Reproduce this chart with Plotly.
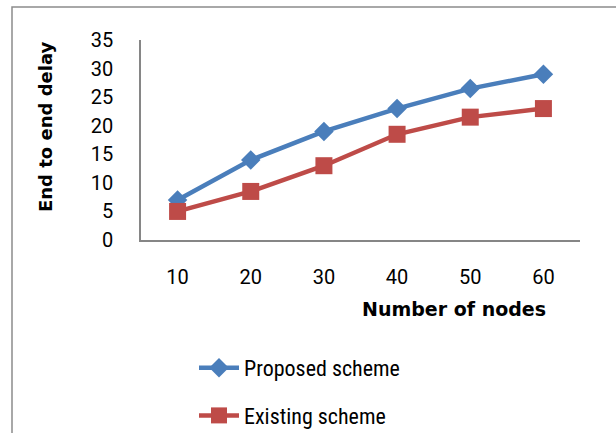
import plotly.graph_objects as go

# Data series
nodes = ["10", "20", "30", "40", "50", "60"]
proposed = [7, 14, 19, 23, 26.5, 29]
existing = [5, 8.5, 13, 18.5, 21.5, 23]
y_ticks = [0, 5, 10, 15, 20, 25, 30, 35]

FONT = "Roboto, Liberation Sans, sans-serif"
NARROW = "Liberation Sans Narrow, Roboto Condensed, Roboto, sans-serif"
BOLD = "DejaVu Sans, Liberation Sans, sans-serif"
BLUE = "#4A7EBB"
RED = "#BE4B48"
AXIS = "#868686"

fig = go.Figure()
fig.add_trace(go.Scatter(
    x=nodes, y=proposed, name="Proposed scheme", mode="lines+markers",
    line=dict(color=BLUE, width=4.5),
    marker=dict(symbol="diamond", size=15, color=BLUE),
    legendgroup="a",
))
fig.add_trace(go.Scatter(
    x=nodes, y=existing, name="Existing scheme", mode="lines+markers",
    line=dict(color=RED, width=4.5),
    marker=dict(symbol="square", size=17, color=RED),
    legendgroup="b",
))

L, R, T, B = 141, 36, 40, 193
W, H = 616, 433
pw, ph = W - L - R, H - T - B


def px_x(x):
    return (x - L) / pw


def px_y(y):
    return 1 - (y - T) / ph


fig.update_layout(
    width=W, height=H,
    margin=dict(l=L, r=R, t=T, b=B, pad=0, autoexpand=False),
    paper_bgcolor="white", plot_bgcolor="white",
    font=dict(family=FONT, size=20, color="black"),
    showlegend=True,
    legend=dict(
        xref="container", yref="container",
        x=194 / W, xanchor="left",
        y=1 - 347 / H, yanchor="top",
        font=dict(family=NARROW, size=22, color="black"),
        tracegroupgap=16,
        traceorder="grouped",
        bgcolor="rgba(0,0,0,0)",
        itemwidth=40,
    ),
    xaxis=dict(
        type="category", range=[-0.5, 5.5], automargin=False,
        showline=True, linecolor=AXIS, linewidth=1.5,
        showgrid=False, zeroline=False, ticks="",
        ticklabelstandoff=18,
        tickfont=dict(family=FONT, size=20),
    ),
    yaxis=dict(
        range=[0, 35], tickvals=y_ticks, automargin=False,
        showline=True, linecolor=AXIS, linewidth=1.5,
        showgrid=False, zeroline=False, ticks="",
        ticklabelstandoff=22,
        tickfont=dict(family=FONT, size=20),
    ),
    shapes=[dict(
        type="rect", xref="paper", yref="paper",
        x0=px_x(12), x1=px_x(W + 10),
        y0=px_y(H + 10), y1=px_y(7),
        line=dict(color="#8C8C8C", width=1.5), fillcolor="rgba(0,0,0,0)",
        layer="below",
    )],
    annotations=[
        dict(text="<b>Number of nodes</b>", xref="paper", yref="paper",
             x=px_x(454), y=px_y(309), xanchor="center", yanchor="middle",
             showarrow=False, font=dict(family=BOLD, size=19, color="black")),
        dict(text="<b>End to end delay</b>", xref="paper", yref="paper",
             x=px_x(45), y=px_y(127), xanchor="center", yanchor="middle",
             textangle=-90, showarrow=False,
             font=dict(family=BOLD, size=18, color="black")),
    ],
)

fig.write_html("out.html")
